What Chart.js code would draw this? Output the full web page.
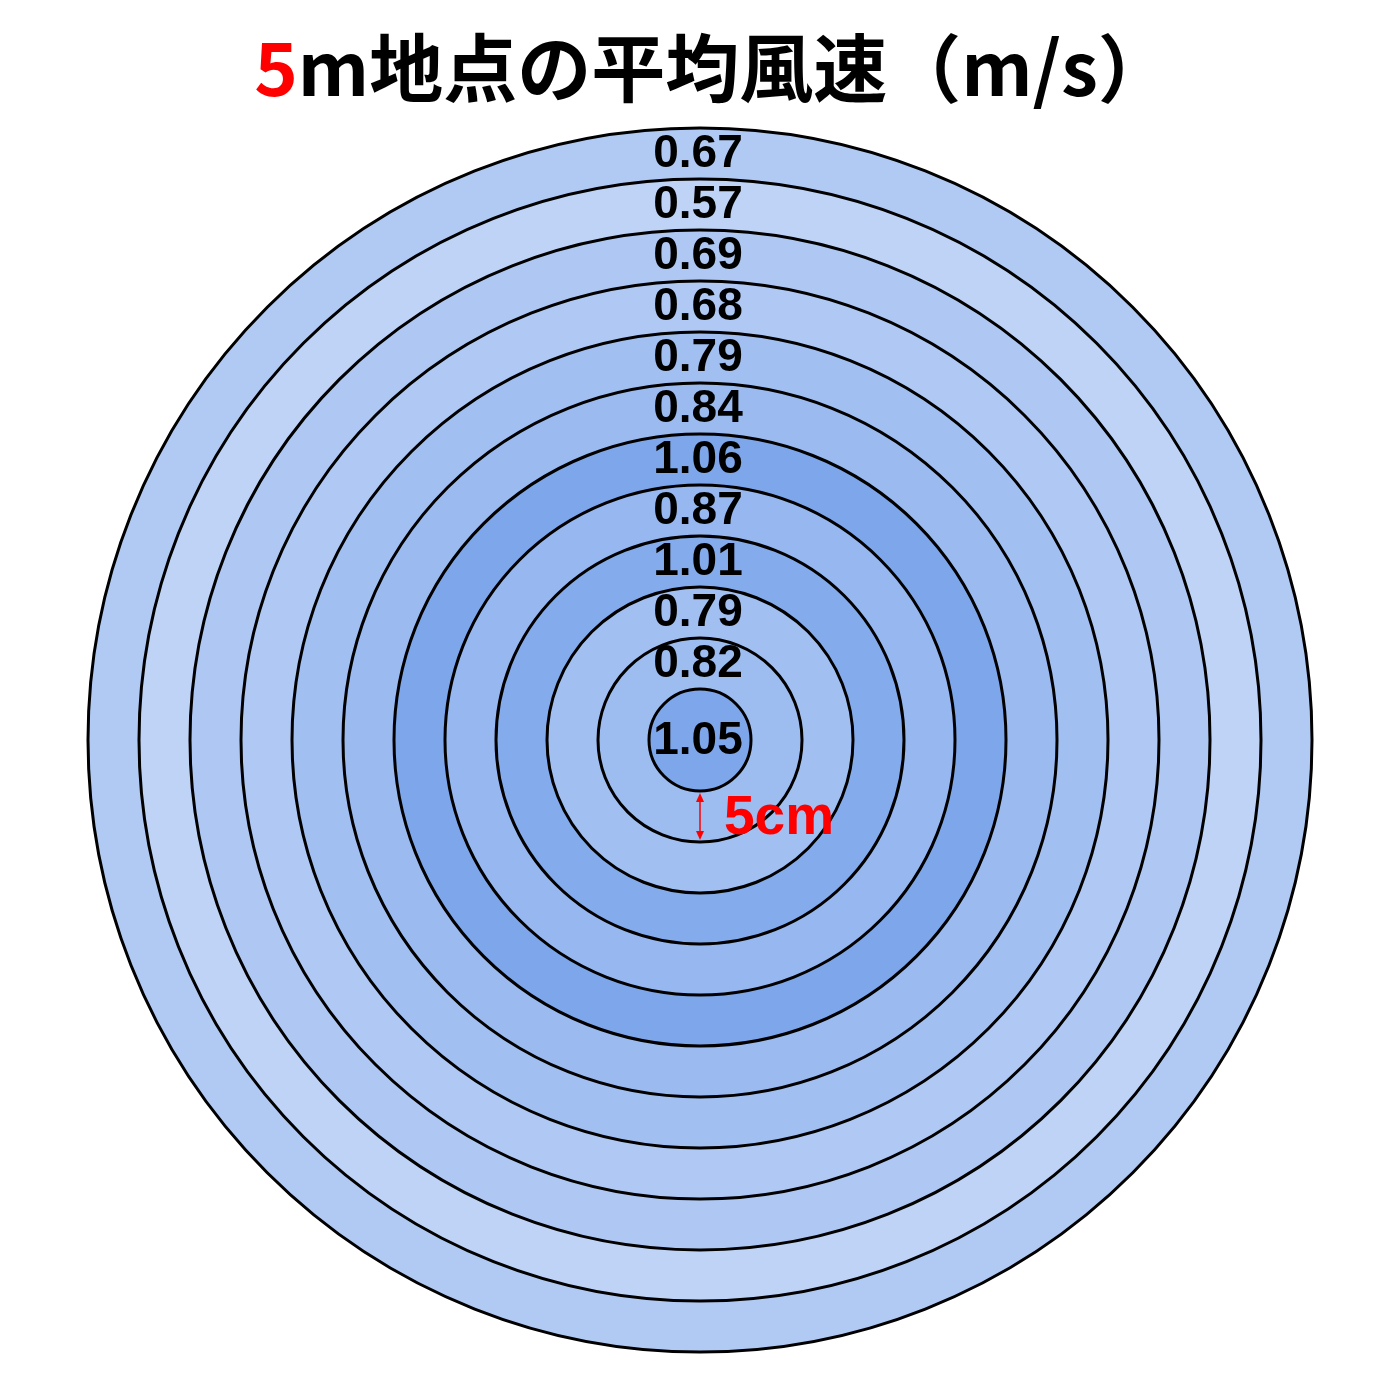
<!DOCTYPE html>
<html>
<head>
<meta charset="utf-8">
<script src="https://cdn.jsdelivr.net/npm/chart.js@4"></script>
<style>
  html, body { margin: 0; padding: 0; background: #ffffff; }
  #wrap { width: 1400px; height: 1400px; }
</style>
</head>
<body>
<div id="wrap"><canvas id="c" width="1400" height="1400"></canvas></div>
<script>
// Rings from outermost to the centre disc (each ring 5cm wide)
const ringNames = ['60cm', '55cm', '50cm', '45cm', '40cm', '35cm', '30cm', '25cm', '20cm', '15cm', '10cm', '5cm'];
const windSpeeds = [0.67, 0.57, 0.69, 0.68, 0.79, 0.84, 1.06, 0.87, 1.01, 0.79, 0.82, 1.05];
const titleHighlight = '5';
const titleRest = 'm地点の平均風速（m/s）';
const scaleLabel = '5cm';

const lightColor = [190, 211, 246];
const darkColor = [125, 166, 235];
const vMin = Math.min(...windSpeeds), vMax = Math.max(...windSpeeds);
function colorFor(v) {
  const t = (v - vMin) / (vMax - vMin);
  const c = lightColor.map((l, i) => Math.round(l + (darkColor[i] - l) * t));
  return `rgb(${c[0]},${c[1]},${c[2]})`;
}

const datasets = windSpeeds.map((v, i) => ({
  label: ringNames[i],
  data: [1],
  speed: v,
  backgroundColor: [colorFor(v)],
  borderWidth: 0,
  hoverOffset: 0
}));

const ringPlugin = {
  id: 'ringPlugin',
  afterDatasetsDraw(chart) {
    const ctx = chart.ctx;
    const arcs = chart.data.datasets.map((d, i) => chart.getDatasetMeta(i).data[0]);
    ctx.save();
    // circles
    ctx.strokeStyle = '#000000';
    ctx.lineWidth = 3;
    arcs.forEach(a => {
      ctx.beginPath();
      ctx.arc(a.x, a.y, a.outerRadius, 0, Math.PI * 2);
      ctx.stroke();
    });
    // values
    ctx.fillStyle = '#000000';
    ctx.font = "bold 46px 'Liberation Sans', Arial, sans-serif";
    ctx.textAlign = 'center';
    ctx.textBaseline = 'middle';
    arcs.forEach((a, i) => {
      const v = chart.data.datasets[i].speed.toFixed(2);
      const y = a.innerRadius > 0.5 ? a.y - (a.innerRadius + a.outerRadius) / 2 : a.y;
      ctx.fillText(v, a.x - 2, y + 1);
    });
    // scale arrow between centre disc and next circle
    const inner = arcs[arcs.length - 1];
    const next = arcs[arcs.length - 2];
    const cx = inner.x, y0 = inner.y + inner.outerRadius + 2, y1 = inner.y + next.outerRadius - 2;
    ctx.strokeStyle = '#ff0000';
    ctx.fillStyle = '#ff0000';
    ctx.lineWidth = 1.5;
    ctx.beginPath();
    ctx.moveTo(cx, y0 + 4); ctx.lineTo(cx, y1 - 4);
    ctx.stroke();
    ctx.beginPath();
    ctx.moveTo(cx, y0); ctx.lineTo(cx - 4, y0 + 9); ctx.lineTo(cx + 4, y0 + 9); ctx.closePath(); ctx.fill();
    ctx.beginPath();
    ctx.moveTo(cx, y1); ctx.lineTo(cx - 4, y1 - 9); ctx.lineTo(cx + 4, y1 - 9); ctx.closePath(); ctx.fill();
    ctx.font = "bold 55px 'Liberation Sans', Arial, sans-serif";
    ctx.textAlign = 'left';
    ctx.textBaseline = 'middle';
    ctx.fillText(scaleLabel, cx + 24, (y0 + y1) / 2 + 2);
    ctx.restore();
  },
  afterDraw(chart) {
    const ctx = chart.ctx;
    ctx.save();
    ctx.font = "bold 74px 'Noto Sans CJK JP', sans-serif";
    ctx.textBaseline = 'alphabetic';
    ctx.textAlign = 'left';
    const w1 = ctx.measureText(titleHighlight).width;
    const w2 = ctx.measureText(titleRest).width;
    let x = chart.width / 2 - (w1 + w2) / 2 + 13;
    const y = 96;
    ctx.fillStyle = '#ff0000';
    ctx.fillText(titleHighlight, x, y);
    ctx.fillStyle = '#000000';
    ctx.fillText(titleRest, x + w1, y);
    ctx.restore();
  }
};

new Chart(document.getElementById('c'), {
  type: 'pie',
  data: { labels: ['風速'], datasets },
  options: {
    responsive: false,
    animation: false,
    layout: { padding: { top: 128, bottom: 48, left: 0, right: 0 } },
    plugins: {
      legend: { display: false },
      tooltip: { enabled: false },
      title: { display: false }
    },
    events: []
  },
  plugins: [ringPlugin]
});
</script>
</body>
</html>
